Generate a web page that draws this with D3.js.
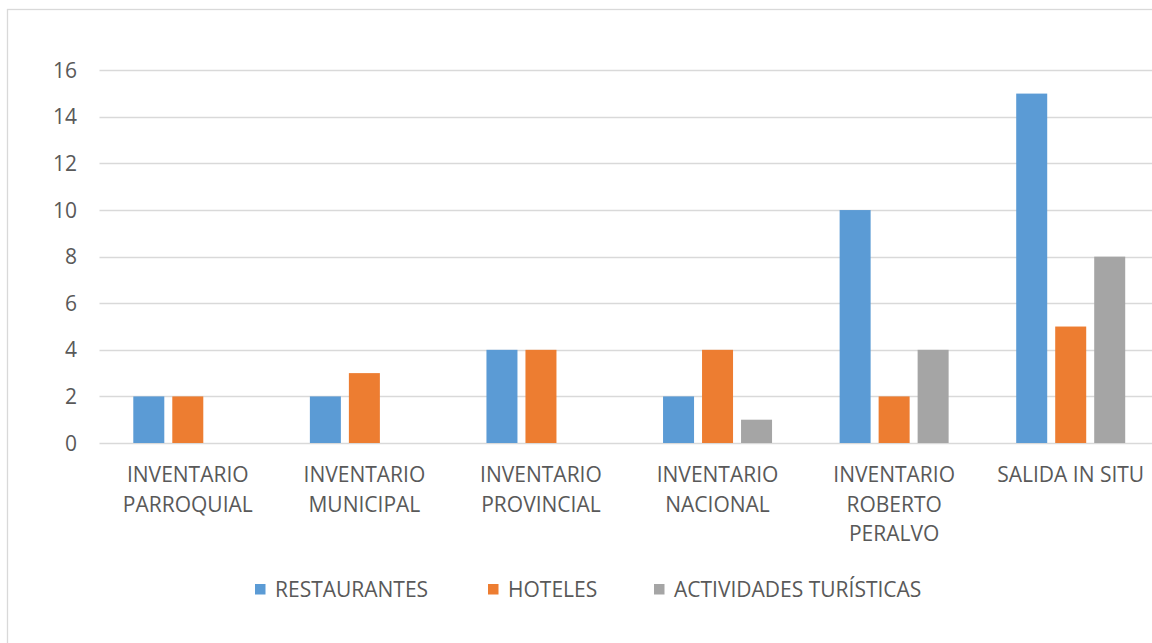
<!DOCTYPE html>
<html>
<head>
<meta charset="utf-8">
<script src="https://cdn.jsdelivr.net/npm/d3@7"></script>
<style>
  body { margin: 0; background: #fff; }
  text { font-family: "Open Sans", sans-serif; fill: #595959; }
</style>
</head>
<body>
<script>
// data
const categories = [
  ["INVENTARIO", "PARROQUIAL"],
  ["INVENTARIO", "MUNICIPAL"],
  ["INVENTARIO", "PROVINCIAL"],
  ["INVENTARIO", "NACIONAL"],
  ["INVENTARIO", "ROBERTO", "PERALVO"],
  ["SALIDA IN SITU"]
]
const seriesNames = ["RESTAURANTES", "HOTELES", "ACTIVIDADES TURÍSTICAS"]
const restaurantes = [2, 2, 4, 2, 10, 15]
const hoteles = [2, 3, 4, 4, 2, 5]
const actividades = [0, 0, 0, 1, 4, 8]
const yTicks = [0, 2, 4, 6, 8, 10, 12, 14, 16]
const colors = ["#5B9BD5", "#ED7D31", "#A5A5A5"]

const values = [restaurantes, hoteles, actividades]
const width = 1152, height = 643
const fontSize = 21

const svg = d3.select("body").append("svg")
    .attr("width", width)
    .attr("height", height)

// chart frame
svg.append("rect")
    .attr("x", 7.5).attr("y", 9.5)
    .attr("width", 1160).attr("height", 660)
    .style("fill", "#fff")
    .style("stroke", "#D9D9D9")
    .style("stroke-width", 1.3)

const x0 = d3.scaleBand()
    .domain(d3.range(categories.length))
    .range([99.5, 1159])
    .padding(0)

const groupW = 109
const x1 = d3.scaleBand()
    .domain(d3.range(seriesNames.length))
    .range([0, groupW])
    .paddingInner(0.205)

const y = d3.scaleLinear()
    .domain([0, 16])
    .range([443, 70.3])

// gridlines
svg.append("g")
    .selectAll("line")
    .data(yTicks)
    .join("line")
    .attr("x1", 99.5)
    .attr("x2", 1159)
    .attr("y1", d => Math.round(y(d)) + 0.5)
    .attr("y2", d => Math.round(y(d)) + 0.5)
    .style("stroke", "#D9D9D9")
    .style("stroke-width", 1.3)

// y labels
svg.append("g")
    .selectAll("text")
    .data(yTicks)
    .join("text")
    .attr("x", 77)
    .attr("y", d => y(d))
    .attr("dy", "0.36em")
    .attr("text-anchor", "end")
    .style("font-size", fontSize + "px")
    .text(d => d)

// bars
const groups = svg.append("g")
    .selectAll("g")
    .data(categories.map((c, i) => i))
    .join("g")
    .attr("transform", i => `translate(${x0(i) + (x0.bandwidth() - groupW) / 2},0)`)

groups.selectAll("rect")
    .data(i => values.map((s, k) => ({k: k, v: s[i]})))
    .join("rect")
    .attr("x", d => x1(d.k))
    .attr("width", x1.bandwidth())
    .attr("y", d => y(d.v))
    .attr("height", d => y(0) - y(d.v))
    .style("fill", d => colors[d.k])

// category labels
const lab = svg.append("g")
    .selectAll("text")
    .data(categories)
    .join("text")
    .attr("x", (d, i) => x0(i) + x0.bandwidth() / 2)
    .attr("y", 482)
    .attr("text-anchor", "middle")
    .style("font-size", fontSize + "px")

lab.selectAll("tspan")
    .data(d => d)
    .join("tspan")
    .attr("x", function(){ return this.parentNode.getAttribute("x") })
    .attr("dy", (d, j) => j === 0 ? 0 : 29.5)
    .text(d => d)

// legend
const legendX = [255, 488, 654]
const leg = svg.append("g")
    .selectAll("g")
    .data(seriesNames)
    .join("g")
    .attr("transform", (d, i) => `translate(${legendX[i]},584)`)

leg.append("rect")
    .attr("width", 10.5).attr("height", 10.5)
    .style("fill", (d, i) => colors[i])

leg.append("text")
    .attr("x", 20)
    .attr("y", 13)
    .style("font-size", fontSize + "px")
    .text(d => d)
</script>
</body>
</html>
